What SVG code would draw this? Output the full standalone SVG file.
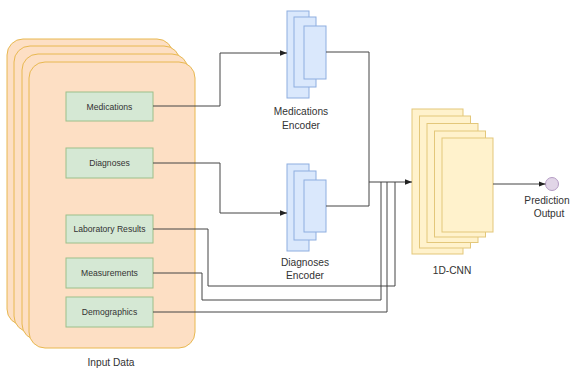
<svg xmlns="http://www.w3.org/2000/svg" width="573" height="369" viewBox="0 0 573 369">
<defs>
<style>
.stack{fill:#fddfc4;stroke:#e8b850;stroke-width:1}
.feat{fill:#d5e8d4;stroke:#9cc08a;stroke-width:1}
.enc{fill:#dae8fc;stroke:#8eaee0;stroke-width:1}
.cnn{fill:#fff2cc;stroke:#e3c77a;stroke-width:1}
.t{font-family:"Liberation Sans",Arial,sans-serif;fill:#333;text-anchor:middle}
.s{font-size:8.6px}
.m{font-size:10.2px}
.c{fill:none;stroke:#444;stroke-width:1}
</style>
<marker id="ah" viewBox="0 0 10 10" refX="10" refY="5" markerWidth="7" markerHeight="7" orient="auto" markerUnits="userSpaceOnUse">
<path d="M0,1 L10,5 L0,9 z" fill="#222"/>
</marker>
</defs>
<rect width="573" height="369" fill="#fff"/>
<g id="input-data">
<rect class="stack" x="7" y="39" width="166" height="286" rx="16"/>
<rect class="stack" x="14" y="46" width="166" height="286" rx="16"/>
<rect class="stack" x="22" y="54" width="166" height="286" rx="16"/>
<rect class="stack" x="29" y="62" width="166" height="286" rx="16"/>
<text class="t m" x="111" y="366">Input Data</text>
</g>
<g id="medications">
<rect class="feat" x="66" y="92" width="87" height="29"/>
<text class="t s" x="109.5" y="109.5">Medications</text>
</g>
<g id="diagnoses">
<rect class="feat" x="66" y="148" width="87" height="30"/>
<text class="t s" x="109.5" y="166">Diagnoses</text>
</g>
<g id="lab-results">
<rect class="feat" x="66" y="215" width="87" height="28"/>
<text class="t s" x="109.5" y="232">Laboratory Results</text>
</g>
<g id="measurements">
<rect class="feat" x="66" y="258" width="87" height="30"/>
<text class="t s" x="109.5" y="276">Measurements</text>
</g>
<g id="demographics">
<rect class="feat" x="66" y="297" width="87" height="30"/>
<text class="t s" x="109.5" y="315">Demographics</text>
</g>
<g id="medications-encoder">
<rect class="enc" x="287" y="11" width="22" height="87"/>
<rect class="enc" x="294" y="17" width="22" height="70"/>
<rect class="enc" x="304" y="26" width="22" height="53"/>
<text class="t m" x="301" y="115">Medications</text>
<text class="t m" x="301" y="129">Encoder</text>
</g>
<g id="diagnoses-encoder">
<rect class="enc" x="287" y="164" width="22" height="87"/>
<rect class="enc" x="294" y="171" width="22" height="69"/>
<rect class="enc" x="304" y="180" width="22" height="52"/>
<text class="t m" x="305" y="266">Diagnoses</text>
<text class="t m" x="305" y="279">Encoder</text>
</g>
<g id="cnn">
<rect class="cnn" x="412" y="109" width="51" height="145"/>
<rect class="cnn" x="419.5" y="116" width="51" height="132"/>
<rect class="cnn" x="427" y="123.5" width="51" height="119"/>
<rect class="cnn" x="434.5" y="131" width="51" height="106"/>
<rect class="cnn" x="442" y="138" width="51" height="94"/>
<text class="t m" x="452" y="274">1D-CNN</text>
</g>
<g id="prediction-output">
<circle cx="552" cy="184" r="6.5" fill="#e1d5e7" stroke="#b59cc4"/>
<text class="t m" x="547" y="204">Prediction</text>
<text class="t m" x="549" y="217">Output</text>
</g>
<g id="connectors">
<path class="c" d="M153,106 H220 V53 H287" marker-end="url(#ah)"/>
<path class="c" d="M153,163 H220 V213 H287" marker-end="url(#ah)"/>
<path class="c" d="M326,52 H369 V182"/>
<path class="c" d="M326,206 H369 V182 H412" marker-end="url(#ah)"/>
<path class="c" d="M153,229 H208 V286 H395 V182"/>
<path class="c" d="M153,273 H202 V300 H381 V182"/>
<path class="c" d="M153,312 H387 V182"/>
<path class="c" d="M493,184 H545.5" marker-end="url(#ah)"/>
</g>
</svg>
